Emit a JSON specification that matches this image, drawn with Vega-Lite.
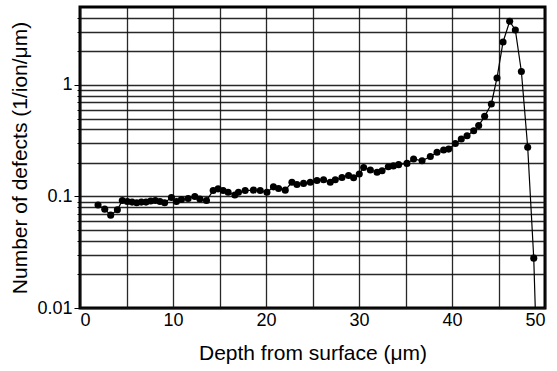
{
  "$schema": "https://vega.github.io/schema/vega-lite/v6.json",
  "width": 465,
  "height": 301,
  "autosize": "none",
  "padding": {"left": 80, "top": 7, "right": 12, "bottom": 63},
  "background": "white",
  "config": {
    "view": {"stroke": "black", "strokeWidth": 3},
    "axis": {
      "labelFont": "Liberation Sans",
      "titleFont": "Liberation Sans",
      "labelColor": "black",
      "titleColor": "black",
      "labelFontSize": 18,
      "titleFontSize": 21,
      "titleFontWeight": "normal",
      "domain": false,
      "gridColor": "#111",
      "gridOpacity": 0.9,
      "gridWidth": 1.3,
      "tickColor": "black"
    }
  },
  "data": {
    "values": [
      {"depth": 1.94, "defects": 0.084},
      {"depth": 2.66, "defects": 0.077},
      {"depth": 3.30, "defects": 0.068},
      {"depth": 4.02, "defects": 0.076},
      {"depth": 4.55, "defects": 0.092},
      {"depth": 5.09, "defects": 0.090},
      {"depth": 5.60, "defects": 0.089},
      {"depth": 6.10, "defects": 0.088},
      {"depth": 6.60, "defects": 0.089},
      {"depth": 7.10, "defects": 0.089},
      {"depth": 7.60, "defects": 0.091},
      {"depth": 8.10, "defects": 0.092},
      {"depth": 8.60, "defects": 0.090},
      {"depth": 9.10, "defects": 0.088},
      {"depth": 9.83, "defects": 0.098},
      {"depth": 10.37, "defects": 0.090},
      {"depth": 10.91, "defects": 0.094},
      {"depth": 11.63, "defects": 0.096},
      {"depth": 12.35, "defects": 0.100},
      {"depth": 12.89, "defects": 0.095},
      {"depth": 13.60, "defects": 0.092},
      {"depth": 14.32, "defects": 0.113},
      {"depth": 14.85, "defects": 0.117},
      {"depth": 15.39, "defects": 0.113},
      {"depth": 15.93, "defects": 0.109},
      {"depth": 16.65, "defects": 0.103},
      {"depth": 17.04, "defects": 0.109},
      {"depth": 17.76, "defects": 0.113},
      {"depth": 18.65, "defects": 0.114},
      {"depth": 19.38, "defects": 0.113},
      {"depth": 20.10, "defects": 0.109},
      {"depth": 20.80, "defects": 0.122},
      {"depth": 21.35, "defects": 0.118},
      {"depth": 22.07, "defects": 0.114},
      {"depth": 22.79, "defects": 0.134},
      {"depth": 23.33, "defects": 0.128},
      {"depth": 24.04, "defects": 0.131},
      {"depth": 24.76, "defects": 0.134},
      {"depth": 25.48, "defects": 0.139},
      {"depth": 26.19, "defects": 0.141},
      {"depth": 26.91, "defects": 0.134},
      {"depth": 27.45, "defects": 0.141},
      {"depth": 28.17, "defects": 0.148},
      {"depth": 28.88, "defects": 0.154},
      {"depth": 29.42, "defects": 0.147},
      {"depth": 30.03, "defects": 0.159},
      {"depth": 30.50, "defects": 0.182},
      {"depth": 31.22, "defects": 0.173},
      {"depth": 31.94, "defects": 0.165},
      {"depth": 32.48, "defects": 0.170},
      {"depth": 33.15, "defects": 0.185},
      {"depth": 33.70, "defects": 0.188},
      {"depth": 34.26, "defects": 0.193},
      {"depth": 35.16, "defects": 0.198},
      {"depth": 35.87, "defects": 0.217},
      {"depth": 36.78, "defects": 0.209},
      {"depth": 37.67, "defects": 0.228},
      {"depth": 38.39, "defects": 0.249},
      {"depth": 39.10, "defects": 0.261},
      {"depth": 39.64, "defects": 0.266},
      {"depth": 40.36, "defects": 0.299},
      {"depth": 41.00, "defects": 0.328},
      {"depth": 41.62, "defects": 0.351},
      {"depth": 42.33, "defects": 0.389},
      {"depth": 42.87, "defects": 0.432},
      {"depth": 43.51, "defects": 0.523},
      {"depth": 44.23, "defects": 0.675},
      {"depth": 44.84, "defects": 1.155},
      {"depth": 45.49, "defects": 2.43},
      {"depth": 46.20, "defects": 3.72},
      {"depth": 46.81, "defects": 3.11},
      {"depth": 47.46, "defects": 1.32},
      {"depth": 48.14, "defects": 0.276},
      {"depth": 48.79, "defects": 0.028},
      {"depth": 49.40, "defects": 0.0006}
    ]
  },
  "encoding": {
    "x": {
      "field": "depth",
      "type": "quantitative",
      "scale": {"domain": [0, 50], "nice": false, "zero": false},
      "axis": {
        "title": "Depth from surface (μm)",
        "values": [0, 5, 10, 15, 20, 25, 30, 35, 40, 45, 50],
        "labelExpr": "datum.value % 10 == 0 ? datum.label : ''",
        "tickSize": 0,
        "labelPadding": 3,
        "titlePadding": 13
      }
    },
    "y": {
      "field": "defects",
      "type": "quantitative",
      "scale": {"type": "log", "domain": [0.01, 5], "nice": false},
      "axis": {
        "title": "Number of defects (1/ion/μm)",
        "values": [0.01, 0.02, 0.03, 0.04, 0.05, 0.06, 0.07, 0.08, 0.09, 0.1, 0.2, 0.3, 0.4, 0.5, 0.6, 0.7, 0.8, 0.9, 1, 2, 3, 4],
        "labelExpr": "datum.value == 1 ? '1' : datum.value == 0.1 ? '0.1' : datum.value == 0.01 ? '0.01' : ''",
        "tickSize": {"condition": {"test": "datum.value == 1 || datum.value == 0.1 || datum.value == 0.01", "value": 6}, "value": 3},
        "labelPadding": 2,
        "titlePadding": 6
      }
    }
  },
  "layer": [
    {
      "mark": {"type": "line", "color": "black", "strokeWidth": 1.2, "clip": true}
    },
    {
      "mark": {"type": "point", "filled": true, "color": "black", "opacity": 1, "size": 50, "clip": true}
    }
  ]
}
